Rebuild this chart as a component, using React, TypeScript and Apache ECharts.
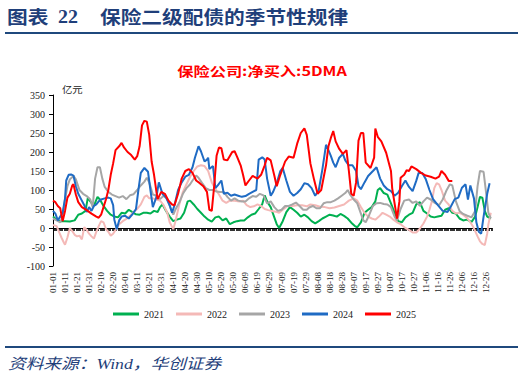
import React, { useEffect, useRef } from "react";
import * as echarts from "echarts";

// Leap-year calendar (MM-DD), 366 categories
const MONTH_DAYS = [31, 29, 31, 30, 31, 30, 31, 31, 30, 31, 30, 31];
const DAYS: string[] = [];
MONTH_DAYS.forEach((n, m) => {
  for (let d = 1; d <= n; d++) {
    DAYS.push(String(m + 1).padStart(2, "0") + "-" + String(d).padStart(2, "0"));
  }
});

const YEARS = ["2021", "2022", "2023", "2024", "2025"];
const COLORS = ["#00B050", "#F4B9B7", "#A6A6A6", "#1F6BC4", "#FF0000"];

// [day index, 亿元]
const s2021 = [[0,30],[3,22],[6,18],[10,18],[14,17],[18,20],[21,35],[24,38],[27,45],[29,80],[31,70],[34,58],[37,82],[39,75],[42,58],[45,45],[48,35],[51,30],[54,28],[57,40],[60,38],[63,48],[66,42],[69,36],[72,35],[75,40],[78,40],[81,38],[84,45],[87,42],[89,55],[91,62],[94,45],[97,30],[100,18],[103,22],[106,25],[109,40],[112,70],[114,72],[117,62],[120,50],[123,40],[126,30],[129,22],[132,17],[135,28],[138,30],[141,20],[144,25],[147,10],[150,15],[153,18],[156,20],[159,20],[162,28],[165,35],[168,38],[171,50],[174,63],[176,86],[178,70],[181,55],[184,28],[186,10],[188,0],[191,18],[194,42],[197,55],[200,48],[203,40],[206,30],[209,35],[212,28],[215,18],[218,12],[221,18],[224,25],[227,30],[230,35],[233,33],[236,30],[239,37],[242,32],[245,25],[248,14],[251,5],[253,2],[256,15],[259,40],[262,48],[265,55],[268,70],[270,100],[272,105],[275,92],[278,88],[281,65],[284,40],[287,18],[290,15],[293,28],[296,35],[299,40],[302,62],[305,68],[308,45],[311,38],[314,30],[317,28],[320,30],[323,32],[326,48],[329,52],[332,40],[335,38],[338,25],[341,20],[344,22],[348,16],[351,30],[353,55],[355,82],[357,80],[359,45],[361,30],[364,25]];

const s2022 = [[0,8],[3,5],[5,-10],[7,-25],[9,-38],[10,-44],[12,-25],[14,0],[16,-8],[18,-18],[20,-22],[22,-20],[24,-30],[26,2],[28,-5],[30,-15],[32,-22],[34,-28],[36,-10],[38,5],[40,18],[42,15],[44,-2],[46,-10],[48,-20],[50,-15],[52,-5],[55,10],[58,18],[61,24],[64,32],[67,42],[70,50],[73,62],[76,82],[78,86],[80,78],[83,78],[86,75],[89,72],[92,60],[95,40],[97,15],[100,-3],[102,20],[105,62],[108,95],[111,115],[114,135],[117,150],[120,162],[123,165],[126,163],[129,150],[132,120],[135,103],[138,88],[141,72],[144,66],[147,72],[151,72],[155,70],[158,72],[161,60],[164,55],[167,57],[170,62],[173,58],[176,50],[179,47],[182,45],[185,43],[188,40],[191,48],[195,58],[199,58],[203,60],[207,60],[211,57],[214,62],[218,60],[222,56],[226,55],[230,52],[234,54],[238,58],[242,62],[246,72],[250,78],[253,72],[256,55],[259,40],[262,30],[265,25],[268,22],[271,30],[274,40],[277,35],[280,30],[283,22],[286,15],[289,10],[293,0],[296,-5],[299,-12],[302,-12],[305,-2],[308,12],[311,30],[313,48],[315,70],[317,105],[319,118],[321,115],[323,100],[326,72],[329,62],[332,45],[335,38],[338,40],[341,35],[344,27],[347,15],[349,5],[351,-8],[353,-22],[355,-35],[357,-42],[359,-45],[361,-15],[362,10],[364,40]];

const s2023 = [[0,25],[3,20],[6,15],[8,30],[10,75],[12,110],[14,128],[17,137],[19,128],[22,100],[25,90],[28,84],[31,75],[33,55],[35,130],[37,160],[39,160],[41,130],[43,108],[46,95],[49,88],[52,84],[55,80],[58,84],[61,76],[64,86],[67,89],[70,100],[73,112],[76,122],[78,132],[80,120],[83,88],[86,85],[89,76],[92,85],[95,76],[98,50],[100,35],[102,50],[105,67],[108,90],[111,105],[114,115],[116,125],[119,138],[121,132],[124,118],[127,105],[130,100],[133,100],[136,96],[139,95],[142,95],[145,82],[148,72],[151,78],[154,72],[157,70],[160,70],[163,78],[166,84],[169,82],[172,90],[175,86],[178,65],[181,70],[184,55],[187,45],[190,48],[193,58],[196,58],[199,62],[202,67],[205,58],[208,48],[211,48],[213,54],[216,58],[219,52],[222,52],[225,65],[228,68],[231,68],[234,72],[237,78],[240,85],[243,92],[245,100],[247,88],[250,75],[253,65],[256,38],[258,20],[260,15],[263,35],[266,58],[269,65],[272,66],[275,63],[278,62],[281,55],[284,30],[286,20],[289,50],[292,72],[296,75],[299,66],[302,70],[305,58],[308,70],[311,80],[314,75],[317,67],[321,60],[324,75],[327,98],[330,115],[332,112],[335,70],[338,45],[341,37],[344,33],[348,28],[351,45],[353,110],[355,150],[358,148],[360,95],[362,40],[364,25]];

const s2024 = [[0,45],[2,38],[4,20],[6,30],[8,40],[10,78],[11,125],[13,140],[15,141],[17,138],[19,110],[21,90],[23,78],[26,60],[28,42],[30,55],[32,45],[34,58],[36,62],[38,70],[40,75],[43,78],[46,80],[48,78],[50,60],[51,22],[53,-3],[55,20],[57,30],[60,32],[63,25],[66,36],[69,50],[71,100],[73,145],[76,158],[79,148],[81,100],[83,55],[86,82],[88,120],[91,90],[94,80],[97,60],[99,40],[101,60],[104,100],[107,120],[110,135],[113,140],[116,160],[118,185],[121,215],[123,202],[126,175],[128,180],[129,185],[130,155],[133,163],[135,105],[137,112],[140,125],[142,90],[145,93],[148,85],[151,88],[154,85],[157,82],[160,84],[163,90],[166,95],[169,100],[171,180],[174,186],[176,180],[178,130],[181,85],[183,95],[186,118],[189,150],[191,158],[194,125],[197,95],[200,85],[203,92],[206,102],[209,118],[212,115],[215,105],[218,85],[221,100],[224,155],[227,219],[229,205],[231,190],[233,172],[235,160],[238,185],[241,195],[243,178],[246,165],[249,165],[252,150],[254,110],[256,102],[259,120],[262,137],[266,150],[269,160],[272,130],[275,112],[278,102],[281,97],[284,85],[287,93],[290,110],[293,125],[296,108],[299,97],[302,124],[304,145],[307,145],[310,128],[313,100],[316,76],[320,60],[324,45],[328,42],[331,58],[334,76],[337,80],[340,106],[343,115],[345,75],[347,112],[350,78],[352,15],[354,-10],[356,-15],[358,30],[361,90],[363,118]];

const s2025 = [[0,72],[2,68],[4,58],[6,52],[8,18],[10,45],[12,80],[14,90],[16,112],[17,115],[19,88],[21,68],[24,55],[28,47],[32,38],[36,30],[38,27],[40,35],[42,55],[44,75],[46,100],[48,140],[50,170],[52,205],[55,215],[57,224],[59,212],[62,200],[65,192],[68,180],[70,189],[72,215],[74,270],[76,282],[78,280],[80,245],[82,175],[84,140],[86,95],[87,76],[90,95],[93,90],[96,72],[99,62],[101,60],[104,90],[107,130],[110,150],[113,155],[116,145],[119,125],[122,118],[125,110],[128,95],[130,48],[132,45],[134,110],[136,190],[138,212],[140,210],[142,180],[145,178],[149,200],[151,202],[153,188],[156,165],[158,140],[160,112],[163,125],[166,137],[170,130],[173,140],[176,165],[178,185],[181,178],[184,138],[186,110],[189,140],[193,175],[196,188],[200,185],[203,222],[206,250],[209,262],[211,245],[214,170],[217,128],[220,90],[223,100],[227,165],[229,215],[231,237],[233,255],[235,228],[238,208],[241,195],[244,205],[246,150],[248,90],[250,85],[252,120],[254,230],[256,250],[258,250],[260,172],[264,158],[267,185],[268,262],[270,240],[273,228],[277,198],[281,150],[282,105],[284,65],[286,25],[288,70],[289,132],[292,140],[294,152],[296,150],[298,162],[302,155],[306,145],[310,138],[314,135],[318,130],[321,135],[323,150],[326,140],[329,124],[332,124]];

const SERIES_DATA = [s2021, s2022, s2023, s2024, s2025];

const NAVY = "#1F497D";
const SERIF = "'Liberation Serif', 'Noto Sans CJK SC', serif";
const CJK = "'Noto Sans CJK SC', sans-serif";

export default function App() {
  const ref = useRef<HTMLDivElement>(null);
  useEffect(() => {
    if (!ref.current) return;
    const chart = echarts.init(ref.current, undefined, { renderer: "svg" });
    chart.setOption({
      animation: false,
      backgroundColor: "#fff",
      grid: { left: 53, right: 32, top: 95, bottom: 112 },
      xAxis: [
        {
          type: "category",
          data: DAYS,
          boundaryGap: false,
          axisLine: { onZero: true, lineStyle: { color: "#000", width: 1 } },
          axisTick: { show: true, interval: 0, length: 3, lineStyle: { color: "#000", width: 0.8 } },
          axisLabel: { show: false },
          splitLine: { show: false },
        },
        {
          type: "category",
          data: DAYS,
          boundaryGap: false,
          position: "bottom",
          axisLine: { show: false, onZero: false },
          axisTick: { show: false },
          splitLine: { show: false },
          axisLabel: {
            interval: 9,
            rotate: 90,
            fontFamily: SERIF,
            fontSize: 9,
            color: "#222",
            margin: 6,
          },
        },
      ],
      yAxis: {
        type: "value",
        min: -100,
        max: 350,
        interval: 50,
        axisLine: { show: true, lineStyle: { color: "#000" } },
        axisTick: { show: true, length: 4, lineStyle: { color: "#000" } },
        splitLine: { show: false },
        axisLabel: { fontFamily: SERIF, fontSize: 10, color: "#222", margin: 8 },
      },
      legend: {
        left: 108,
        top: 304,
        itemWidth: 26,
        itemHeight: 3,
        itemGap: 12,
        icon: "rect",
        data: YEARS,
        textStyle: { fontFamily: SERIF, fontSize: 10, color: "#222" },
      },
      series: YEARS.map((y, i) => ({
        name: y,
        type: "line",
        data: SERIES_DATA[i],
        symbol: "none",
        smooth: false,
        itemStyle: { color: COLORS[i] },
        lineStyle: { color: COLORS[i], width: 2 },
      })),
      graphic: [
        {
          type: "text", x: 7, y: 17, scaleX: 1.15,
          style: { text: "图表", fill: "#1F3F7A", fontSize: 18, fontWeight: "bold", fontFamily: CJK, textAlign: "left", textVerticalAlign: "middle" },
        },
        {
          type: "text", x: 58, y: 17, scaleX: 1.05,
          style: { text: "22", fill: "#1F3F7A", fontSize: 19, fontWeight: "bold", fontFamily: SERIF, textAlign: "left", textVerticalAlign: "middle" },
        },
        {
          type: "text", x: 100, y: 17, scaleX: 1.15,
          style: { text: "保险二级配债的季节性规律", fill: "#1F3F7A", fontSize: 18, fontWeight: "bold", fontFamily: CJK, textAlign: "left", textVerticalAlign: "middle" },
        },
        { type: "line", shape: { x1: 5, y1: 33, x2: 518, y2: 33 }, style: { stroke: NAVY, lineWidth: 2 } },
        {
          type: "text", x: 262, y: 70, scaleX: 1.25,
          style: { text: "保险公司:净买入:5DMA", fill: "#FF0000", fontSize: 13, fontWeight: "bold", fontFamily: CJK, textAlign: "center", textVerticalAlign: "middle" },
        },
        {
          type: "text", x: 62, y: 89, scaleX: 1.15,
          style: { text: "亿元", fill: "#222", fontSize: 9, fontFamily: CJK, textAlign: "left", textVerticalAlign: "middle" },
        },
        { type: "line", shape: { x1: 5, y1: 347, x2: 518, y2: 347 }, style: { stroke: NAVY, lineWidth: 2 } },
        {
          type: "text", x: 8, y: 364, scaleX: 1.18,
          style: { text: "资料来源：Wind，华创证券", fill: "#1F3F7A", fontSize: 15, fontStyle: "italic", fontFamily: SERIF, textAlign: "left", textVerticalAlign: "middle" },
        },
      ],
    });
    return () => chart.dispose();
  }, []);
  return (
    <div
      ref={ref}
      style={{ position: "absolute", left: 0, top: 0, width: 524, height: 378, background: "#fff" }}
    />
  );
}
